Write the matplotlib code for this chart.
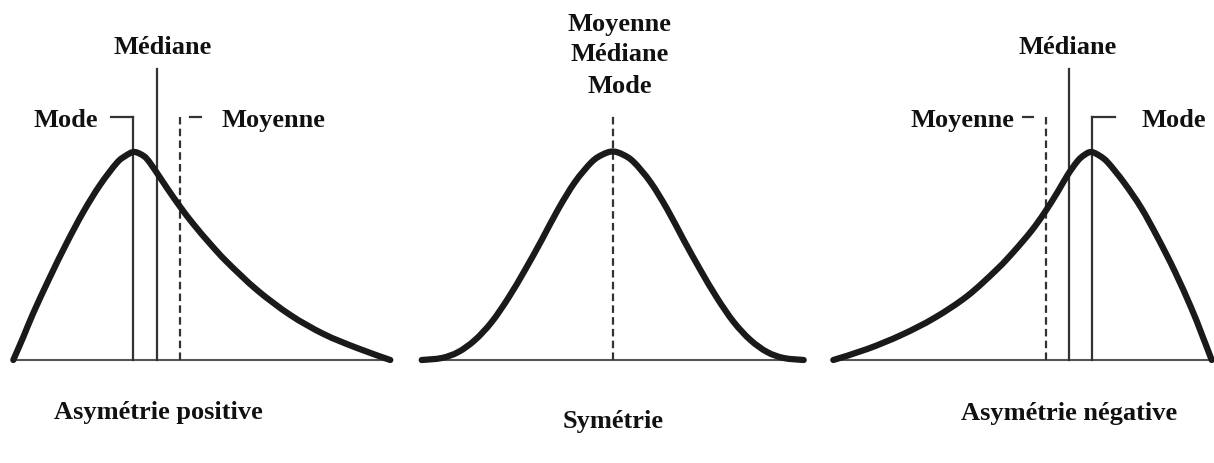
import matplotlib
matplotlib.use('Agg')
import matplotlib.pyplot as plt
import numpy as np
from matplotlib.path import Path
from matplotlib.patches import PathPatch

plt.rcParams['font.family'] = 'Liberation Serif'

# Courbes : x depuis le début du panneau, hauteur au-dessus de l'axe
pos_x = [0, 10, 20, 36.7, 53.4, 70, 86.7, 103.4, 112, 120, 127, 133.7, 143.7,
         153.7, 167, 180, 197, 213.7, 243.7, 277, 310.3, 343.7, 377]
pos_h = [0, 23, 47, 83, 117, 148, 175, 197, 204, 208, 206, 201, 187,
         172, 153, 136, 116, 98, 70, 45, 26, 12, 0]

sym_x = [0, 20, 36.6, 53.3, 70, 86.6, 103.3, 120, 136.6, 153.3, 170, 181, 191,
         201, 212, 228.7, 245.4, 262, 278.7, 295.4, 312, 328.7, 345.4, 362, 382]
sym_h = [0, 2, 8, 20, 38, 62, 90, 120, 151, 178, 198, 205.5, 208.5,
         205.5, 198, 178, 151, 120, 90, 62, 38, 20, 8, 2, 0]

neg_x = [0, 34, 68, 101, 134, 164, 181, 198, 211, 224.3, 234.3, 244.3, 251, 258,
         266.7, 275, 291, 308, 324.6, 341.3, 358, 368, 378.4]
neg_h = [0, 11, 25, 42, 64, 91, 109, 129, 147, 168, 185, 199, 205, 208,
         204, 197, 177, 152, 122, 89, 52, 27, 0]

# Repères : (position, hauteur du trait, style)
pos_marks = [(120, 243, 'solid'), (144, 291, 'solid'), (167, 243, 'dashed')]
sym_marks = [(191, 245, 'dashed')]
neg_marks = [(213, 243, 'dashed'), (236, 291, 'solid'), (259, 243, 'solid')]

titres_bas = ['Asymétrie positive', 'Symétrie', 'Asymétrie négative']


def courbe_lisse(x, y):
    """Chemin de Bézier (Catmull-Rom) passant par les points lus."""
    p = np.column_stack([x, y]).astype(float)
    ext = np.vstack([p[0], p, p[-1]])
    verts = [p[0]]
    codes = [Path.MOVETO]
    for i in range(len(p) - 1):
        p0, p1, p2, p3 = ext[i], ext[i + 1], ext[i + 2], ext[i + 3]
        verts += [p1 + (p2 - p0) / 6, p2 - (p3 - p1) / 6, p2]
        codes += [Path.CURVE4] * 3
    return Path(verts, codes)


W, H = 1214, 463
fig = plt.figure(figsize=(W / 100, H / 100), dpi=100)
fig.patch.set_facecolor('white')

starts = [13.3, 421.7, 833.3]
axes = []
for s in starts:
    ax = fig.add_axes([(s - 13) / W, 0, 400 / W, 1])
    ax.set_xlim(-13, 387)
    ax.set_ylim(-103, 360)
    ax.axis('off')
    axes.append(ax)

courbes = [(pos_x, pos_h), (sym_x, sym_h), (neg_x, neg_h)]
marks = [pos_marks, sym_marks, neg_marks]
dash = (0, (3.4, 1.9))
gris = '#333333'

txt = dict(fontsize=19, fontweight='bold', color='#111111', ha='center', va='baseline')

for ax, (cx, ch), mk in zip(axes, courbes, marks):
    ax.plot([0, cx[-1]], [0, 0], color='#555555', lw=1.5, zorder=1, clip_on=False)
    for x, top, style in mk:
        ls = dash if style == 'dashed' else '-'
        ax.plot([x, x], [0, top], color=gris, lw=1.6, ls=ls, zorder=2, clip_on=False)
    patch = PathPatch(courbe_lisse(cx, ch), fill=False, edgecolor='#1a1a1a', lw=4.5,
                      capstyle='round', joinstyle='round', zorder=3, clip_on=False)
    ax.add_patch(patch)

# petits traits horizontaux des étiquettes
axes[0].plot([98, 120], [243, 243], color=gris, lw=1.6)
axes[0].plot([177, 188], [243, 243], color=gris, lw=1.6)
axes[2].plot([190, 200], [243, 243], color=gris, lw=1.6)
axes[2].plot([259, 282], [243, 243], color=gris, lw=1.6)

# étiquettes
axes[0].text(149, 306, 'Médiane', **txt)
axes[0].text(52, 233, 'Mode', **txt)
axes[0].text(260.5, 233, 'Moyenne', **txt)

axes[1].text(198, 329, 'Moyenne', **txt)
axes[1].text(198, 299, 'Médiane', **txt)
axes[1].text(198, 267, 'Mode', **txt)

axes[2].text(234, 306, 'Médiane', **txt)
axes[2].text(129.5, 233, 'Moyenne', **txt)
axes[2].text(340.5, 233, 'Mode', **txt)

axes[0].text(145, -59, titres_bas[0], **txt)
axes[1].text(191, -68, titres_bas[1], **txt)
axes[2].text(236, -60, titres_bas[2], **txt)

plt.savefig('out.png', dpi=100, facecolor='white')
plt.close()
